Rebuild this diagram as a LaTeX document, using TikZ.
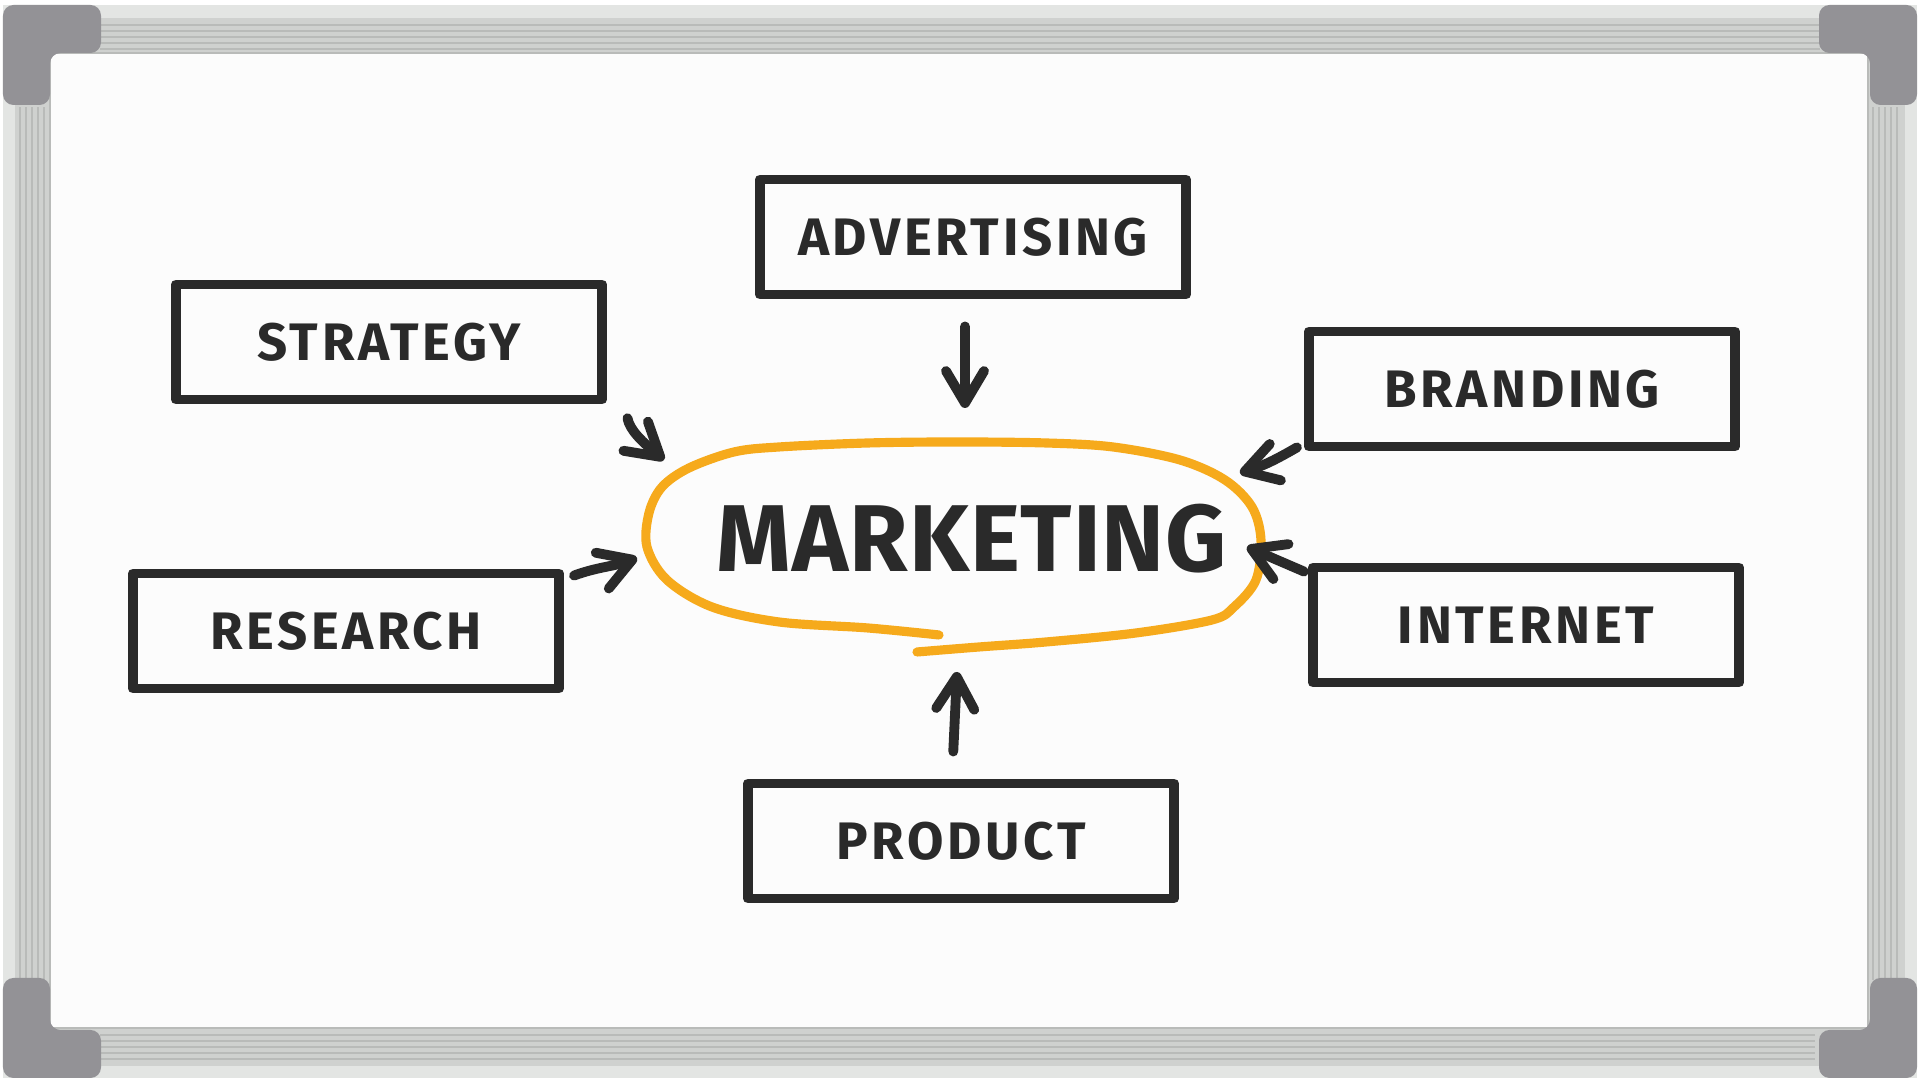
\documentclass[tikz,border=0pt]{standalone}
\usepackage{fontspec}
\setmainfont{Fira Sans}
\usetikzlibrary{arrows.meta}

\definecolor{marker}{HTML}{2A2A2A}
\definecolor{hilite}{HTML}{F6AA1C}
\definecolor{board}{HTML}{FCFCFC}
\definecolor{rail}{HTML}{CFD1CF}
\definecolor{railtop}{HTML}{E3E5E3}
\definecolor{ridge}{HTML}{B9BBB9}
\definecolor{capgray}{HTML}{939296}

\begin{document}
\def\w{4.26cm}
\def\h{1.15cm}
\def\topic#1#2#3#4{\node[topic] (#1) at (#2,#3) {#4};}
\def\corner#1{\fill[capgray, rounded corners=3pt, #1] (0,100) -- (0,0) -- (98,0) -- (98,48) -- (47,48) -- (47,100) -- cycle;}

\begin{tikzpicture}[x=0.01cm, y=0.01cm,
    topic/.style={draw=marker, line width=2.8pt, line join=round, fill=board,
        minimum width=\w, minimum height=\h, text=marker,
        font=\fontsize{15}{18}\selectfont\bfseries\addfontfeatures{LetterSpace=7}},
    link/.style={draw=marker, line width=2.8pt, line cap=round,
        -{Straight Barb[length=3.2mm, width=3.8mm, round]}}]
    \useasboundingbox (0,0) rectangle (1920,1080);
    % frame
    \fill[white] (0,0) rectangle (1920,1080);
    \fill[rail] (3,2) rectangle (1917,1075);
    \fill[railtop] (3,1062) rectangle (1917,1075);
    \fill[railtop] (3,2) rectangle (1917,14);
    \fill[railtop] (3,2) rectangle (15,1075);
    \fill[railtop] (1905,2) rectangle (1917,1075);
    \foreach \k in {0,6,...,24} {
        \draw[ridge, line width=0.4pt] (100,1031+\k) -- (1820,1031+\k);
        \draw[ridge, line width=0.4pt] (100,21+\k) -- (1815,21+\k);
        \draw[ridge, line width=0.4pt] (20+\k,100) -- (20+\k,973);
        \draw[ridge, line width=0.4pt] (1873+\k,100) -- (1873+\k,973);
    }
    \fill[board] (50,52) rectangle (1868,1027);
    \draw[ridge, line width=0.8pt] (50,52) rectangle (1868,1027);
    \corner{shift={(3,1075)}, yscale=-1}
    \corner{shift={(1917,1075)}, xscale=-1, yscale=-1}
    \corner{shift={(3,2)}}
    \corner{shift={(1917,2)}, xscale=-1}

    \topic{strategy}{389}{738}{STRATEGY}
    \topic{advertising}{973}{843}{ADVERTISING}
    \topic{branding}{1522}{691}{BRANDING}
    \topic{research}{346}{449}{RESEARCH}
    \topic{internet}{1526}{455}{INTERNET}
    \topic{product}{961}{239}{PRODUCT}
    \node[text=marker, font=\fontsize{27}{32}\selectfont\bfseries\addfontfeatures{LetterSpace=1}] (marketing) at (972,541) {MARKETING};

    \draw[hilite, line width=2.6pt, line cap=round] plot[smooth, tension=0.55] coordinates {
        (939,445) (868,452) (779,458) (712,473) (667,500) (647,533) (649,567)
        (662,593) (689,612) (734,628) (779,633) (868,637) (957,638) (1046,637)
        (1113,633) (1180,620) (1225,600) (1252,573) (1261,540) (1256,500)
        (1234,473) (1212,460) (1136,447) (1046,438) (979,433) (917,428)};

    \coordinate (adv-tip) at (965,672);
    \coordinate (str-tip) at (664,620);
    \coordinate (res-tip) at (637,522);
    \coordinate (bra-tip) at (1240,607);
    \coordinate (int-tip) at (1247,533);
    \coordinate (pro-tip) at (957,408);

    \draw[link, shorten <=0.27cm] ([xshift=-0.08cm]advertising.south) -- (adv-tip);
    \draw[link, shorten <=0.14cm] ([xshift=0.18cm]strategy.south east) to[out=-80, in=140] (str-tip);
    \draw[link] ([xshift=0.1cm, yshift=-0.07cm]research.north east) to[out=20, in=200] (res-tip);
    \draw[link] ([xshift=-0.07cm, yshift=0.04cm]branding.south west) to[out=-150, in=17] (bra-tip);
    \draw[link] ([xshift=-0.04cm, yshift=-0.09cm]internet.north west) -- (int-tip);
    \draw[link, shorten <=0.27cm] ([xshift=-0.09cm]product.north) -- (pro-tip);
\end{tikzpicture}
\end{document}
